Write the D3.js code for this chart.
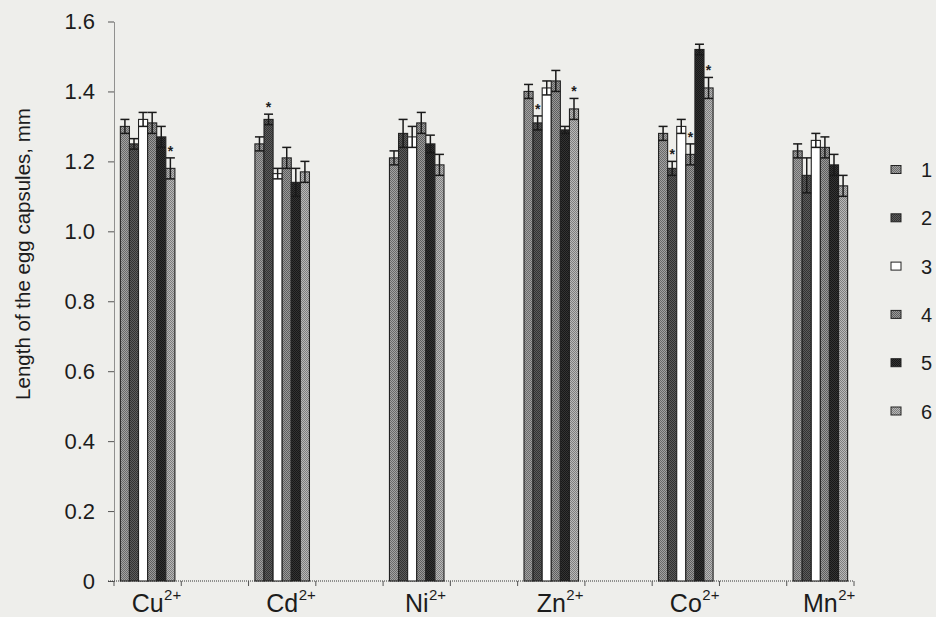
<!DOCTYPE html>
<html>
<head>
<meta charset="utf-8">
<script src="https://cdn.jsdelivr.net/npm/d3@7/dist/d3.min.js"></script>
<style>
  html, body { margin: 0; padding: 0; background: #eeeeeb; }
  svg { display: block; }
  text { font-family: "Liberation Sans", Arial, sans-serif; fill: #1c1c1c; }
</style>
</head>
<body>
<svg id="chart" width="936" height="617"></svg>
<script>
// Metal ions on the x axis
const categories = ["Cu", "Cd", "Ni", "Zn", "Co", "Mn"];
const categoryCharge = "2+";
// Treatment series shown in the legend
const seriesNames = ["1", "2", "3", "4", "5", "6"];

// Mean egg-capsule length (mm) per series, one value per ion
const series1 = [1.30, 1.25, 1.21, 1.40, 1.28, 1.23];
const series2 = [1.25, 1.32, 1.28, 1.31, 1.18, 1.16];
const series3 = [1.32, 1.165, 1.27, 1.41, 1.30, 1.26];
const series4 = [1.31, 1.21, 1.31, 1.43, 1.22, 1.24];
const series5 = [1.27, 1.14, 1.25, 1.29, 1.52, 1.19];
const series6 = [1.18, 1.17, 1.19, 1.35, 1.41, 1.13];

// Error (± half-range) per series, one value per ion
const error1 = [0.02, 0.02, 0.02, 0.02, 0.02, 0.02];
const error2 = [0.015, 0.015, 0.04, 0.02, 0.02, 0.05];
const error3 = [0.02, 0.015, 0.03, 0.02, 0.02, 0.02];
const error4 = [0.03, 0.03, 0.03, 0.03, 0.03, 0.03];
const error5 = [0.03, 0.04, 0.025, 0.01, 0.015, 0.03];
const error6 = [0.03, 0.03, 0.03, 0.03, 0.03, 0.03];

// Significant differences: [ion, series]
const significant = [["Cu", "6"], ["Cd", "2"], ["Zn", "2"], ["Zn", "6"], ["Co", "2"], ["Co", "4"], ["Co", "6"]];

// Y axis ticks
const yTicks = [0, 0.2, 0.4, 0.6, 0.8, 1.0, 1.2, 1.4, 1.6];
const yTitle = "Length of the egg capsules, mm";

const means = [series1, series2, series3, series4, series5, series6];
const errors = [error1, error2, error3, error4, error5, error6];

// Halftone-like fills for each series: [light dot, dark dot]
const seriesShades = [
  ["#a2a2a2", "#6a6a6a"],
  ["#5c5c5c", "#333333"],
  ["#ffffff", "#ffffff"],
  ["#9a9a9a", "#5e5e5e"],
  ["#333333", "#181818"],
  ["#b8b8b8", "#7e7e7e"]
];

const svg = d3.select("#chart");
const defs = svg.append("defs");
seriesShades.forEach((c, i) => {
  const p = defs.append("pattern")
    .attr("id", "shade" + i)
    .attr("width", 2).attr("height", 2)
    .attr("patternUnits", "userSpaceOnUse");
  p.append("rect").attr("width", 2).attr("height", 2).attr("fill", c[0]);
  p.append("rect").attr("width", 1).attr("height", 1).attr("fill", c[1]);
  p.append("rect").attr("x", 1).attr("y", 1).attr("width", 1).attr("height", 1).attr("fill", c[1]);
});

// Plot area
const plotLeft = 114, plotRight = 854, plotTop = 21.5, plotBottom = 581;

// Each ion is followed by an empty slot on the category axis
const slots = [];
categories.forEach((c, i) => {
  slots.push(c);
  if (i < categories.length - 1) slots.push("_gap" + i);
});

const x = d3.scaleBand().domain(slots).range([plotLeft, plotRight]).padding(0);
const xInner = d3.scaleBand().domain(seriesNames)
  .range([0, x.bandwidth()]).paddingInner(0).paddingOuter(0.7);
const y = d3.scaleLinear().domain([0, 1.6]).range([plotBottom, plotTop]);

// Y axis
const yAxis = svg.append("g")
  .attr("transform", `translate(${plotLeft},0)`)
  .call(d3.axisLeft(y).tickValues(yTicks)
    .tickFormat(d => d === 0 ? "0" : d.toFixed(1))
    .tickSize(6).tickSizeOuter(0).tickPadding(13));
yAxis.select(".domain").attr("stroke", "#333").attr("stroke-dasharray", "1,1");
yAxis.selectAll(".tick line").attr("stroke", "#555");
yAxis.selectAll(".tick text")
  .style("font-size", "22px")
  .attr("fill", "#1c1c1c");

// X axis line and slot boundary ticks
const xAxis = svg.append("g");
xAxis.append("line")
  .attr("x1", x.range()[0] - 6).attr("x2", x.range()[1])
  .attr("y1", y(0)).attr("y2", y(0))
  .attr("stroke", "#333").attr("stroke-dasharray", "1,1");
const edges = slots.map(s => x(s)).concat([x(slots[slots.length - 1]) + x.bandwidth()]);
xAxis.selectAll("line.tick").data(edges).join("line")
  .attr("class", "tick")
  .attr("x1", d => d).attr("x2", d => d)
  .attr("y1", y(0)).attr("y2", y(0) + 5)
  .attr("stroke", "#555");

// Bars
const barData = [];
categories.forEach((c, ci) => {
  seriesNames.forEach((s, si) => {
    barData.push({ cat: c, series: s, si, value: means[si][ci], err: errors[si][ci] });
  });
});

const groups = svg.append("g");
groups.selectAll("rect.bar").data(barData).join("rect")
  .attr("class", "bar")
  .attr("x", d => x(d.cat) + xInner(d.series))
  .attr("width", xInner.bandwidth())
  .attr("y", d => y(d.value))
  .attr("height", d => y(0) - y(d.value))
  .attr("fill", d => `url(#shade${d.si})`)
  .attr("stroke", "#222")
  .attr("stroke-width", 1.1);

// Error bars
const capHalf = 4.5;
const eb = groups.selectAll("g.err").data(barData).join("g").attr("class", "err")
  .attr("stroke", "#1a1a1a").attr("stroke-width", 1.5);
eb.append("line")
  .attr("x1", d => x(d.cat) + xInner(d.series) + xInner.bandwidth() / 2)
  .attr("x2", d => x(d.cat) + xInner(d.series) + xInner.bandwidth() / 2)
  .attr("y1", d => y(d.value - d.err)).attr("y2", d => y(d.value + d.err));
[1, -1].forEach(sign => {
  eb.append("line")
    .attr("x1", d => x(d.cat) + xInner(d.series) + xInner.bandwidth() / 2 - capHalf)
    .attr("x2", d => x(d.cat) + xInner(d.series) + xInner.bandwidth() / 2 + capHalf)
    .attr("y1", d => y(d.value + sign * d.err)).attr("y2", d => y(d.value + sign * d.err));
});

// Significance marks
const marked = barData.filter(d => significant.some(m => m[0] === d.cat && m[1] === d.series));
groups.selectAll("text.star").data(marked).join("text")
  .attr("class", "star")
  .attr("x", d => x(d.cat) + xInner(d.series) + xInner.bandwidth() / 2)
  .attr("y", d => y(d.value + d.err) - 2)
  .attr("text-anchor", "middle")
  .style("font-size", "14px")
  .style("font-weight", "bold")
  .text("*");

// Category labels with superscript charge
const labels = svg.append("g");
categories.forEach(c => {
  const cx = x(c) + x.bandwidth() / 2;
  const base = labels.append("text")
    .attr("x", cx).attr("y", 612)
    .attr("text-anchor", "middle")
    .style("font-size", "25px")
    .text(c);
  const w = base.node().getComputedTextLength();
  labels.append("text")
    .attr("x", cx + w / 2 + 0.5).attr("y", 600)
    .style("font-size", "15px")
    .text(categoryCharge);
});

// Y axis title
svg.append("text")
  .attr("transform", "translate(30,254) rotate(-90)")
  .attr("text-anchor", "middle")
  .style("font-size", "20.5px")
  .text(yTitle);

// Legend
const legend = svg.append("g");
seriesNames.forEach((s, i) => {
  const cy = 170 + i * 48.3;
  legend.append("rect")
    .attr("x", 891).attr("y", cy - 4.5)
    .attr("width", 10).attr("height", 8)
    .attr("fill", `url(#shade${i})`)
    .attr("stroke", "#222").attr("stroke-width", 1);
  legend.append("text")
    .attr("x", 921).attr("y", cy + 7)
    .style("font-size", "20px")
    .text(s);
});
</script>
</body>
</html>
